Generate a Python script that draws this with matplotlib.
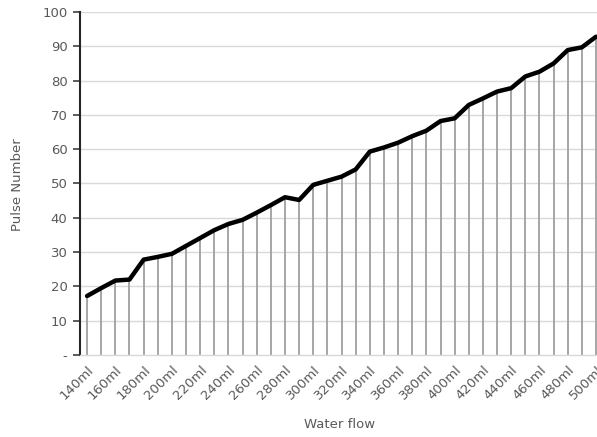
import numpy as np
from matplotlib import pyplot as plt

flow_ml = list(range(140, 501, 10))
categories = ['%dml' % v for v in flow_ml]
pulses = [17.2, 19.5, 21.7, 22.0, 27.8, 28.6, 29.5, 31.8, 34.1, 36.4,
          38.2, 39.4, 41.5, 43.7, 46.0, 45.2, 49.6, 50.8, 52.0, 54.1,
          59.3, 60.5, 61.9, 63.8, 65.4, 68.2, 69.0, 72.9, 74.8, 76.8,
          77.8, 81.2, 82.6, 85.0, 88.9, 89.7, 92.8]
y_ticks = [0, 10, 20, 30, 40, 50, 60, 70, 80, 90, 100]
y_labels = ['-', '10', '20', '30', '40', '50', '60', '70', '80', '90', '100']

grey_txt = '#595959'

fig = plt.figure(figsize=(5.97, 4.37), dpi=100)
ax = fig.add_axes([80/597, 82/437, 517/597, 343/437])

x = np.arange(len(categories))

# horizontal gridlines
for t in y_ticks[1:]:
   ax.axhline(t, color='#d9d9d9', lw=1.0, zorder=0)

# drop lines
ax.vlines(x, 0, pulses, color='#a6a6a6', lw=1.4, zorder=1)

ax.plot(x, pulses, color='black', lw=3.2, solid_joinstyle='round',
        solid_capstyle='round', zorder=3)

ax.set_xlim(-0.5, 36.07)
ax.set_ylim(0, 100)

ax.set_yticks(y_ticks)
ax.set_yticklabels(y_labels, fontsize=9.5, color=grey_txt)
ax.tick_params(axis='y', direction='out', length=5, width=1.2, color='#404040', pad=4)

ax.set_xticks(x[::2])
ax.set_xticklabels(categories[::2], rotation=45, ha='right', rotation_mode='anchor',
                   fontsize=9.5, color=grey_txt)
ax.tick_params(axis='x', length=0, pad=6)

for side in ['top', 'right']:
   ax.spines[side].set_visible(False)
ax.spines['left'].set_color('#262626')
ax.spines['left'].set_linewidth(1.5)
ax.spines['bottom'].set_color('#d9d9d9')
ax.spines['bottom'].set_linewidth(1.0)

fig.text(340/597, 1 - 425/437, 'Water flow', ha='center', va='center',
         fontsize=9.5, color=grey_txt)
fig.text(18/597, 1 - 185/437, 'Pulse Number', ha='center', va='center',
         rotation=90, fontsize=9.5, color=grey_txt)

plt.savefig('out.png', dpi=100)
